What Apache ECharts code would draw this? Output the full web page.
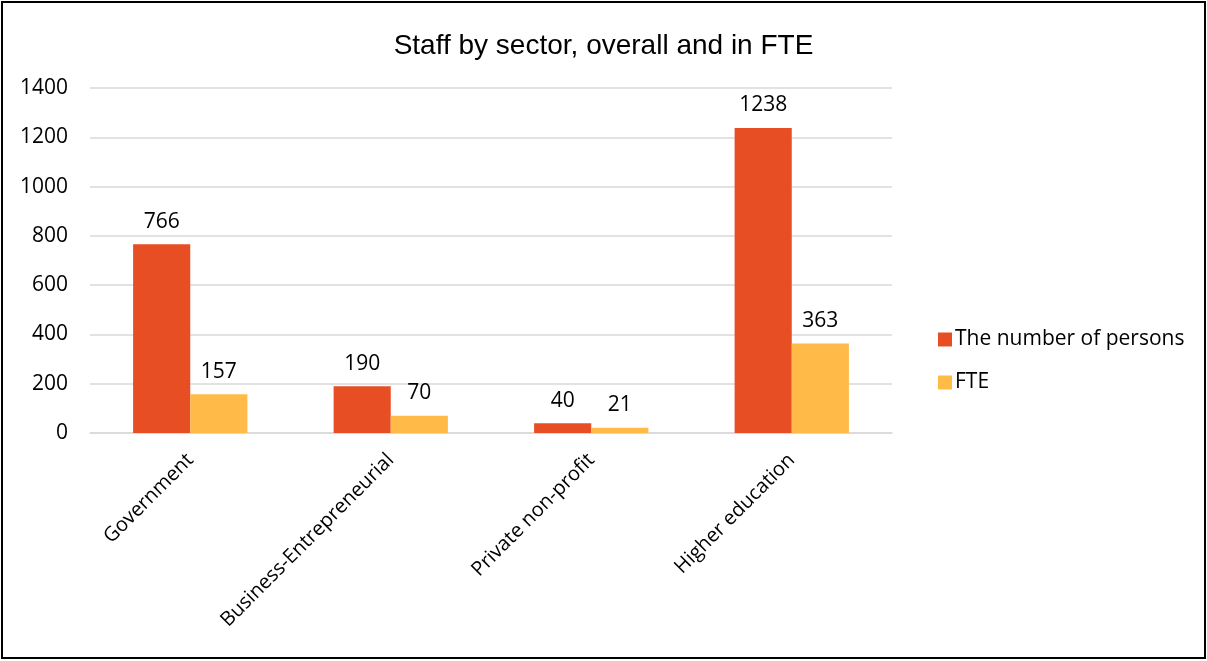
<!DOCTYPE html>
<html>
<head>
<meta charset="utf-8">
<script src="https://cdn.jsdelivr.net/npm/echarts@6/dist/echarts.min.js"></script>
<style>
html,body{margin:0;padding:0;background:#fff;}
#c{width:1207px;height:661px;}
</style>
</head>
<body>
<div id="c"></div>
<script>
const categories = ['Government', 'Business-Entrepreneurial', 'Private non-profit', 'Higher education'];
const persons = [766, 190, 40, 1238];
const fte = [157, 70, 21, 363];
const seriesNames = ['The number of persons', 'FTE'];
const yTicks = [0, 200, 400, 600, 800, 1000, 1200, 1400];

const chart = echarts.init(document.getElementById('c'), null, {renderer: 'canvas'});
const labelFont = '"Open Sans", "Noto Sans", sans-serif';
chart.setOption({
  animation: false,
  title: {
    text: 'Staff by sector, overall and in FTE',
    left: 'center',
    top: 27,
    textStyle: {fontFamily: '"Liberation Sans", Arial, sans-serif', fontSize: 28, fontWeight: 'normal', color: '#000'}
  },
  graphic: [{
    type: 'rect',
    shape: {x: 2, y: 2, width: 1203, height: 656},
    style: {fill: 'none', stroke: '#000', lineWidth: 2},
    silent: true
  }],
  legend: {
    orient: 'vertical',
    left: 933,
    top: 324,
    itemWidth: 14,
    itemHeight: 14,
    itemGap: 22,
    icon: 'rect',
    textStyle: {fontFamily: labelFont, fontSize: 21, color: '#000', padding: [0, 0, 0, -2]},
    data: seriesNames
  },
  grid: {left: 90, right: 315, top: 88, bottom: 228, containLabel: false},
  xAxis: {
    type: 'category',
    data: categories,
    axisLine: {lineStyle: {color: '#d9d9d9', width: 1.5}},
    axisTick: {show: false},
    axisLabel: {rotate: 45, fontFamily: labelFont, fontSize: 20, color: '#000', margin: 24, interval: 0}
  },
  yAxis: {
    type: 'value',
    min: yTicks[0],
    max: yTicks[yTicks.length - 1],
    interval: 200,
    axisLine: {show: false},
    axisTick: {show: false},
    splitLine: {lineStyle: {color: '#d9d9d9', width: 1.5}},
    axisLabel: {fontFamily: labelFont, fontSize: 21, color: '#000', margin: 22, formatter: v => String(v)}
  },
  series: [
    {
      name: seriesNames[0], type: 'bar', data: persons,
      barGap: '0%', barCategoryGap: '43%',
      itemStyle: {color: '#E84E24'},
      label: {show: true, position: 'top', distance: 12, fontFamily: labelFont, fontSize: 21, color: '#000'}
    },
    {
      name: seriesNames[1], type: 'bar', data: fte,
      itemStyle: {color: '#FFBA47'},
      label: {show: true, position: 'top', distance: 12, fontFamily: labelFont, fontSize: 21, color: '#000'}
    }
  ]
});
</script>
</body>
</html>
